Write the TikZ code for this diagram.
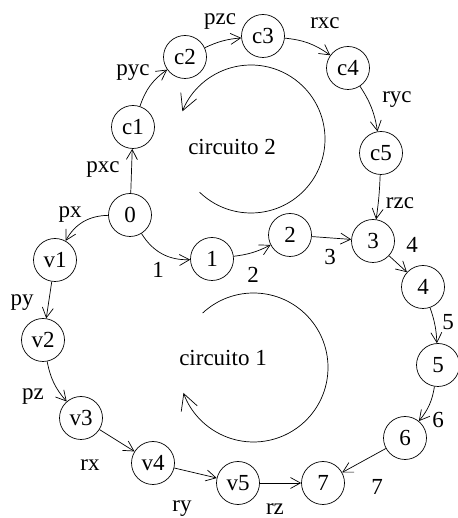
\documentclass[tikz,border=0pt]{standalone}
\usepackage{fontspec}
\setmainfont{Liberation Serif}
\usetikzlibrary{arrows.meta}
\begin{document}
\begin{tikzpicture}[x=1pt,y=1pt,
  st/.style={circle,draw,line width=0.7pt,minimum size=43pt,inner sep=0pt,font=\fontsize{23}{26}\selectfont},
  lbl/.style={font=\fontsize{23}{26}\selectfont,inner sep=0pt},
  ed/.style={line width=0.7pt,-{Straight Barb[length=10pt,width=11pt,line width=0.7pt]}},
  cyc/.style={line width=0.7pt,-{Straight Barb[length=16pt,width=17pt,line width=0.7pt]}}]
\useasboundingbox (0,0) rectangle (457,518);
% states
\node[st] (n0) at (130,303) {0};
\node[st] (c1) at (133,391) {c1};
\node[st] (c2) at (185,461) {c2};
\node[st] (c3) at (263,482) {c3};
\node[st] (c4) at (348,450) {c4};
\node[st] (c5) at (381,365) {c5};
\node[st] (n1) at (212,259) {1};
\node[st] (n2) at (290,283) {2};
\node[st] (n3) at (373,277) {3};
\node[st] (n4) at (423,231) {4};
\node[st] (n5) at (438,153) {5};
\node[st] (n6) at (405,80) {6};
\node[st] (n7) at (323,35) {7};
\node[st] (v1) at (55,258) {v1};
\node[st] (v2) at (43,178) {v2};
\node[st] (v3) at (81,100) {v3};
\node[st] (v4) at (153,55) {v4};
\node[st] (v5) at (238,35) {v5};
% connectors
\draw[ed] (n0) -- (c1);
\draw[ed] (c1) to[bend left=18] (c2);
\draw[ed] (c2) to[bend left=10] (c3);
\draw[ed] (c3) to[bend left=15] (c4);
\draw[ed] (c4) to[bend left=12] (c5);
\draw[ed] (c5) to[bend left=3] (n3);
\draw[ed] (n0) to[bend right=30] (v1);
\draw[ed] (n0) to[bend right=30] (n1);
\draw[ed] (n1) to[bend right=10] (n2);
\draw[ed] (n2) -- (n3);
\draw[ed] (n3) -- (n4);
\draw[ed] (n4) to[bend left=8] (n5);
\draw[ed] (n5) to[bend left=15] (n6);
\draw[ed] (n6) -- (n7);
\draw[ed] (v1) -- (v2);
\draw[ed] (v2) to[bend right=15] (v3);
\draw[ed] (v3) -- (v4);
\draw[ed] (v4) -- (v5);
\draw[ed] (v5) -- (n7);
% labels
\node[lbl] (lpxc) at (103,348) {pxc};
\node[lbl] (lpyc) at (133,445) {pyc};
\node[lbl] (lpzc) at (220,496) {pzc};
\node[lbl] (lrxc) at (325,495) {rxc};
\node[lbl] (lryc) at (397,418) {ryc};
\node[lbl] (lrzc) at (400,315) {rzc};
\node[lbl] (lpx) at (70,303) {px};
\node[lbl] (l1) at (158,248) {1};
\node[lbl] (l2) at (253,243) {2};
\node[lbl] (l3) at (330,261) {3};
\node[lbl] (l4) at (412,273) {4};
\node[lbl] (l5) at (448,196) {5};
\node[lbl] (l6) at (438,98) {6};
\node[lbl] (l7) at (377,31) {7};
\node[lbl] (lpy) at (22,215) {py};
\node[lbl] (lpz) at (33,121) {pz};
\node[lbl] (lrx) at (90,53) {rx};
\node[lbl,anchor=base] (lry) at (182,6) {ry};
\node[lbl,anchor=base] (lrz) at (275,4) {rz};
% circuits
\node[lbl] (t2) at (232,371) {circuito 2};
\node[lbl] (t1) at (223,160) {circuito 1};
\draw[cyc] ([shift={(226:74)}]251,379) arc[start angle=226,end angle=518,radius=74];
\draw[cyc] ([shift={(133:74.5)}]253.5,150.5) arc[start angle=133,end angle=-160,radius=74.5];
\end{tikzpicture}
\end{document}
